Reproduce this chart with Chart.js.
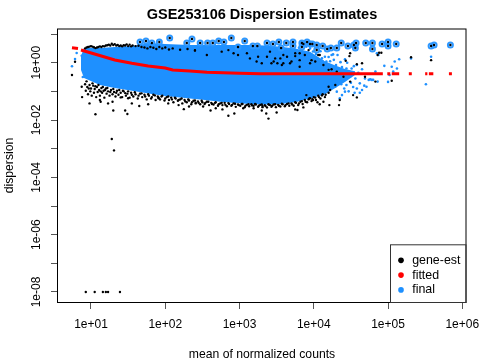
<!DOCTYPE html>
<html><head><meta charset="utf-8">
<style>html,body{margin:0;padding:0;background:#fff}canvas{display:block}</style>
<script src="https://cdn.jsdelivr.net/npm/chart.js@4"></script>
</head><body><canvas id="c" width="480" height="360"></canvas>
<script>
// All readings are [log10(mean of normalized counts), log10(dispersion)]
const title = "GSE253106 Dispersion Estimates";
const xLabel = "mean of normalized counts";
const yLabel = "dispersion";
const xTicks = [1e1,1e2,1e3,1e4,1e5,1e6];
const yTicks = [1e1,1,1e-1,1e-2,1e-3,1e-4,1e-5,1e-6,1e-7,1e-8];
// outer edges of the solid "final" cloud
const cloudMean  = [.865,.906,1.12,1.32,1.55,1.795,2.0,2.33,2.535,2.74,2.94,3.14,3.34,3.55,3.75,3.95,4.15,4.29,4.42,4.555];
const cloudUpper = [.234,.513,.513,.548,.583,.687,.652,.618,.618,.618,.618,.618,.60,.56,.5,.38,.05,-.1,-.22,-.3];
const cloudLower = [-.255,-.534,-.78,-.88,-.98,-1.08,-1.16,-1.25,-1.3,-1.36,-1.41,-1.44,-1.46,-1.44,-1.38,-1.25,-1.1,-.883,-.673,-.43];
// fitted trend, null = gap in the trend
const fittedLog = [[.744,.523],[.825,.495],null,[.865,.443],[1.094,.269],[1.32,.094],[1.55,-.02],[1.77,-.115],[2.0,-.185],[2.1,-.255],[2.33,-.29],[2.56,-.335],[3.0,-.37],[3.28,-.384],[4.93,-.384],null,[4.99,-.384],[5.03,-.384],null,[5.05,-.384],[5.15,-.384],null,[5.28,-.384],[5.32,-.384],null,[5.5,-.384],[5.53,-.384],null,[5.55,-.384],[5.61,-.384],null,[5.82,-.384],[5.86,-.384]];
// outliers: ringed points
const outlierLog = [[1.66,.72],[1.74,.757],[1.82,.687],[1.92,.72],[2.06,.86],[2.29,.687],[2.36,.83],[2.47,.687],[2.57,.687],[2.64,.687],[2.72,.757],[2.79,.72],[2.89,.86],[2.98,.548],[3.07,.757],[3.18,.583],[3.24,.583],[3.37,.687],[3.45,.652],[3.53,.72],[3.63,.687],[3.56,.513],[3.72,.583],[3.72,.72],[3.84,.687],[3.84,.548],[3.86,.652],[3.91,.72],[3.95,.652],[3.98,.652],[4.04,.443],[4.04,.618],[4.12,.583],[4.18,.478],[4.23,.513],[4.31,.513],[4.37,.687],[4.46,.583],[4.54,.618],[4.57,.687],[4.56,.513],[4.7,.687],[4.79,.687],[4.79,.478],[4.92,.652],[5.0,.722],[5.0,.583],[5.11,.652],[5.58,.583],[5.62,.618],[5.84,.618]];
// gene-wise estimates
const geneTopBand = [[.92,.5],[.96,.55],[1.0,.58],[1.04,.54],[1.08,.53],[1.12,.57],[1.16,.58],[1.2,.6],[1.24,.63],[1.28,.66],[1.32,.65],[1.36,.62],[1.4,.6],[1.44,.61],[1.48,.64],[1.52,.63],[1.56,.6],[1.6,.58],[1.64,.59],[1.68,.55],[1.72,.53],[1.76,.5],[1.8,.55],[1.84,.52],[1.88,.48],[1.92,.55],[1.96,.5],[2.0,.53],[2.05,.46],[2.1,.5],[2.2,.45],[2.3,.48],[2.4,.42],[.94,.53],[.98,.56],[1.02,.56],[1.06,.51],[1.1,.55],[1.14,.55],[1.18,.57],[1.22,.61],[1.26,.6],[1.3,.62],[1.34,.6],[1.38,.58],[1.42,.57],[1.46,.6],[1.5,.58],[1.54,.57]];
const geneInner = [[2.4,.44],[2.56,.27],[2.76,.385],[2.85,.44],[2.92,.33],[2.98,.27],[3.1,.33],[3.14,.15],[3.23,.04],[3.25,.21],[3.3,-.02],[3.41,.385],[3.43,-.02],[3.48,.15],[3.51,-.02],[3.57,-.08],[3.59,.27],[3.68,-.02],[3.75,.33],[3.81,-.14],[3.93,.44],[3.97,.09],[4.06,.27],[3.81,.33],[3.75,.23],[3.88,.27],[3.95,-.02],[4.02,.04],[4.08,.27],[4.13,-.08],[4.2,-.25],[3.81,.09],[3.64,.21],[3.55,.15],[3.46,.04],[3.37,.21],[3.59,-.02],[3.7,.04],[4.24,-.23],[4.31,-.31],[4.4,-.49],[4.49,-.66],[4.69,-.49],[4.83,-.66]];
const geneLowBand = [[.92,-.75],[.93,-.98],[.95,-.85],[.96,-1.1],[.98,-.78],[.99,-1.0],[1.0,-.9],[1.01,-1.15],[1.03,-.8],[1.04,-1.05],[1.05,-.92],[1.07,-1.2],[1.08,-.85],[1.09,-1.02],[1.11,-.95],[1.12,-1.15],[1.14,-.88],[1.15,-1.05],[1.17,-.98],[1.18,-1.22],[1.2,-.9],[1.21,-1.08],[1.23,-1.0],[1.25,-1.15],[1.27,-.95],[1.29,-1.1],[1.31,-1.02],[1.33,-1.18],[1.35,-.98],[1.37,-1.12],[1.4,-1.05],[1.42,-1.2],[1.44,-1.0],[1.47,-1.15],[1.49,-1.08],[1.52,-1.22],[1.54,-1.05],[1.57,-1.18],[1.6,-1.1],[1.63,-1.25],[1.66,-1.08],[1.69,-1.2],[1.72,-1.12],[1.75,-1.28],[1.78,-1.15],[1.81,-1.25],[1.84,-1.12],[1.87,-1.3],[1.9,-1.18],[1.93,-1.28],[1.96,-1.15],[1.99,-1.32],[2.02,-1.2],[2.05,-1.3],[2.08,-1.22],[2.11,-1.38],[2.14,-1.25],[2.17,-1.33],[2.2,-1.28],[2.23,-1.42],[2.26,-1.3],[2.29,-1.38],[2.32,-1.32],[2.35,-1.45],[2.38,-1.33],[2.41,-1.4],[2.44,-1.35],[2.47,-1.45],[2.5,-1.38],[2.53,-1.44],[2.56,-1.36],[2.59,-1.48],[2.62,-1.4],[2.65,-1.46],[2.68,-1.38],[2.71,-1.5],[2.74,-1.42],[2.77,-1.48],[2.8,-1.4],[2.83,-1.52],[2.86,-1.44],[2.89,-1.5],[2.92,-1.42],[2.95,-1.54],[2.98,-1.46],[3.01,-1.5],[3.04,-1.44],[3.07,-1.55],[3.1,-1.47],[3.13,-1.52],[3.16,-1.45],[3.19,-1.5],[3.22,-1.46],[3.25,-1.54],[3.28,-1.47],[3.31,-1.55],[3.34,-1.48],[3.37,-1.56],[3.4,-1.47],[3.43,-1.54],[3.46,-1.46],[3.49,-1.55],[3.52,-1.47],[3.55,-1.53],[3.58,-1.45],[3.61,-1.52],[3.64,-1.44],[3.67,-1.5],[3.7,-1.42],[3.73,-1.5],[3.76,-1.4],[3.79,-1.48],[3.82,-1.36],[3.85,-1.44],[3.88,-1.3],[3.91,-1.38],[3.94,-1.25],[3.97,-1.34],[4.0,-1.2],[4.03,-1.3],[4.06,-1.15],[4.09,-1.25],[4.12,-1.1],[4.15,-1.2]];
const geneLowBandInner = [[.94,-.65],[.97,-.9],[1.02,-.72],[1.06,-.82],[1.1,-.78],[1.13,-1.0],[1.16,-.85],[1.19,-.95],[1.22,-.88],[1.26,-1.02],[1.3,-.92],[1.34,-1.05],[1.38,-.95],[1.43,-.98],[1.46,-1.06],[1.5,-1.0],[1.55,-1.12],[1.59,-1.03],[1.64,-1.15],[1.68,-1.07],[1.73,-1.18],[1.77,-1.1],[1.82,-1.2],[1.86,-1.14],[1.91,-1.22],[1.95,-1.18],[2.0,-1.25],[2.04,-1.18],[2.09,-1.28],[2.13,-1.22],[2.18,-1.3],[2.22,-1.25],[2.27,-1.35],[2.31,-1.28],[2.36,-1.38],[2.4,-1.32],[2.45,-1.4],[2.49,-1.33],[2.54,-1.4],[2.58,-1.36],[2.63,-1.44],[2.67,-1.4],[2.72,-1.45],[2.76,-1.4],[2.81,-1.47],[2.85,-1.41],[2.9,-1.47],[2.94,-1.43],[2.99,-1.48],[3.03,-1.44],[3.08,-1.5],[3.12,-1.45],[3.17,-1.49],[3.21,-1.44],[3.26,-1.5],[3.3,-1.46],[3.35,-1.51],[3.39,-1.45],[3.44,-1.5],[3.48,-1.45],[3.53,-1.5],[3.57,-1.43],[3.62,-1.48],[3.66,-1.42],[3.71,-1.46],[3.75,-1.38],[3.8,-1.42],[3.84,-1.34],[3.89,-1.36],[3.93,-1.28],[3.98,-1.27],[4.02,-1.22],[4.07,-1.2],[4.11,-1.14],[4.16,-1.12],[4.2,-1.05]];
const geneLowScatter = [[1.06,-1.8],[1.28,-2.66],[1.31,-3.06],[1.3,-1.67],[1.46,-1.67],[1.49,-1.79],[.98,-1.42],[1.12,-1.3],[1.13,-1.36],[1.23,-1.42],[1.29,-1.36],[1.4,-1.21],[1.5,-1.24],[1.55,-1.42],[1.65,-1.51],[1.77,-1.45],[1.91,-1.24],[2.04,-1.42],[2.18,-1.48],[2.25,-1.62],[2.32,-1.53],[2.41,-1.42],[2.51,-1.53],[2.61,-1.67],[2.68,-1.59],[2.77,-1.63],[2.85,-1.85],[2.93,-1.77],[3.05,-1.59],[3.19,-1.59],[3.3,-1.67],[3.31,-1.51],[3.36,-1.77],[3.39,-1.95],[3.41,-1.48],[3.5,-1.74],[3.75,-1.63],[3.78,-1.65],[3.86,-1.56]];
const geneRight = [[4.49,.33],[4.48,.23],[4.86,.27],[4.88,.35],[4.91,.35],[5.31,.19],[5.58,.09],[5.05,-.63],[4.65,-.02],[4.58,-.05],[4.43,.07],[4.34,-1.48],[4.35,-1.3],[4.53,-1.13],[4.58,-1.21],[4.21,-1.48],[4.2,-.84],[4.22,-.95],[4.29,-.78],[4.13,-1.36],[4.08,-1.45],[4.05,-1.38],[3.99,-1.3],[3.95,-1.24],[3.9,-1.13]];
const geneLeft = [[.744,-.43],[.785,.035],[.875,-.84],[.88,-1.2]];
const geneFloor = [[.93,-8],[1.05,-8],[1.16,-8],[1.2,-8],[1.23,-8],[1.39,-8]];
// final estimates outside the solid cloud
const finalScatter = [[.744,-.125],[.785,.13],[.807,.337],[.875,.244],[.906,-.255],[.89,-.5],[5.31,.15],[5.58,.21],[5.51,-.75],[5.0,-.67],[5.05,-.14],[4.95,-.11],[5.15,.12],[5.09,.04],[5.12,-.2],[5.07,-.31],[5.02,-.43],[4.85,.33],[4.87,.27],[4.71,-.84],[4.65,-.95],[4.62,-1.05],[4.55,-1.05],[4.35,-1.24],[4.42,-1.01],[4.31,-1.01],[4.29,-.84],[4.24,.27],[4.26,.29],[4.32,.27],[4.42,.12],[4.45,0],[4.51,-.2],[4.58,-.08],[4.65,-.23],[4.69,-.55],[4.74,-.6],[4.76,-.58],[4.78,-.6],[4.8,-.6],[4.83,-.31],[4.86,-.66],[4.62,-.72],[4.49,-.49],[4.4,-.37],[4.35,-.25],[4.56,-.55],[4.44,-.78],[4.38,-1.13],[4.24,-.6],[4.31,-.66],[4.17,-.49],[4.17,.04],[4.11,.15],[3.99,.39],[3.9,.56],[3.84,.44],[3.95,.5],[3.73,.42],[3.64,.39],[4.06,.56],[4.15,.21],[3.5,.33],[3.41,.39],[3.7,.5],[3.8,.52],[3.86,.3],[3.92,.35],[3.98,.22],[4.03,.3],[4.09,.4],[4.12,.05],[4.2,.2],[4.22,.05],[4.27,.1],[4.3,-.08],[4.36,.02],[4.38,-.15],[4.44,-.2],[4.47,-.35],[4.5,-.7],[4.53,-.85],[4.47,-1.0],[4.41,-.9],[4.37,-.75],[4.6,-.35],[4.54,-.12],[4.68,-.8],[4.58,-.9]];

const BLUE = "#1E90FF";
const FONT = "'Liberation Sans', Arial, sans-serif";
const toXY = p => p ? {x: Math.pow(10,p[0]), y: Math.pow(10,p[1])} : {x: NaN, y: null};
const geneAll = [...outlierLog, ...geneTopBand, ...geneInner, ...geneLowBand, ...geneLowBandInner, ...geneLowScatter, ...geneRight, ...geneLeft, ...geneFloor];
const cloudPts = arr => arr.map((v,i) => toXY([cloudMean[i], v]));

const frame = {
  id: "frame",
  afterLayout(chart){
    const l = chart.legend;
    l.left = 393.6; l.top = 251.7; l.right = 466; l.bottom = 302;
  },
  afterDraw(chart){
    const a = chart.chartArea, c = chart.ctx;
    c.save();
    c.strokeStyle = "#000"; c.lineWidth = 1;
    c.strokeRect(a.left-0.5, a.top, a.right-a.left+0.5, a.bottom-a.top+0.5);
    c.strokeStyle = "#333";
    c.strokeRect(390.5, 244.8, a.right-390.5, a.bottom-244.3);
    c.restore();
  }
};
const noPad = a => { a.paddingLeft = 0; a.paddingRight = 0; a.paddingTop = 0; a.paddingBottom = 0; };

new Chart(document.getElementById("c"), {
  type: "scatter",
  data: { datasets: [
    {label:"gene-est", data: geneAll.map(toXY), order:1, backgroundColor:"#000", borderColor:"#000", borderWidth:0, pointRadius:1.2, pointStyle:"circle"},
    {label:"fitted", data: fittedLog.map(toXY), order:0, showLine:true, spanGaps:false, backgroundColor:"#FF0000", borderColor:"#FF0000", borderWidth:3, borderCapStyle:"butt", pointRadius:0, pointStyle:"circle"},
    {label:"final", data: finalScatter.map(toXY), order:3, backgroundColor:BLUE, borderColor:BLUE, borderWidth:0, pointRadius:1.3, pointStyle:"circle"},
    {label:"outlier", data: outlierLog.map(toXY), order:2, backgroundColor:"rgba(0,0,0,0)", borderColor:"#2E98FF", borderWidth:2, pointRadius:2.5, pointStyle:"circle"},
    {label:"cloud upper", data: cloudPts(cloudUpper), order:4, showLine:true, borderWidth:0, borderColor:BLUE, backgroundColor:BLUE, pointRadius:0, fill:"+1"},
    {label:"cloud lower", data: cloudPts(cloudLower), order:5, showLine:true, borderWidth:0, borderColor:BLUE, backgroundColor:BLUE, pointRadius:0}
  ]},
  options: {
    responsive:false, animation:false, devicePixelRatio:1,
    layout:{padding:{left:0,right:14,top:0,bottom:0}},
    font:{family:FONT},
    plugins:{
      tooltip:{enabled:false},
      title:{display:true, text:title, fullSize:false, color:"#000", font:{family:FONT,size:14.5,weight:"bold"}, padding:{top:6.4,bottom:5.2}},
      legend:{display:true, position:"chartArea", align:"start",
        labels:{usePointStyle:true, boxWidth:10, boxHeight:4, padding:2.4, color:"#000", font:{family:FONT,size:12.4},
          sort:(a,b)=>a.datasetIndex-b.datasetIndex,
          generateLabels:chart=>Chart.defaults.plugins.legend.labels.generateLabels(chart)
            .filter(i=>["gene-est","fitted","final"].includes(i.text))
            .map(i=>Object.assign(i,{lineWidth:0}))}}
    },
    scales:{
      x:{type:"logarithmic", min:3.595, max:1122000,
        border:{display:false},
        grid:{drawOnChartArea:false, drawTicks:true, tickLength:7, tickColor:"#555"},
        afterBuildTicks:a=>{a.ticks = xTicks.map(v=>({value:v}));},
        afterFit:a=>{a.height = 58; noPad(a);},
        ticks:{autoSkip:false, maxRotation:0, minRotation:0, padding:8, color:"#000", font:{family:FONT,size:12},
          callback:v=>"1e+0"+Math.round(Math.log10(v))},
        title:{display:true, text:xLabel, color:"#000", font:{family:FONT,size:12.2}, padding:{top:0,bottom:-1.5}}
      },
      y:{type:"logarithmic", min:4.47e-9, max:15,
        border:{display:false},
        grid:{drawOnChartArea:false, drawTicks:true, tickLength:7, tickColor:"#555"},
        afterBuildTicks:a=>{a.ticks = yTicks.map(v=>({value:v}));},
        afterFit:a=>{a.width = 58; noPad(a);},
        ticks:{autoSkip:false, minRotation:90, maxRotation:90, crossAlign:"center", padding:-3, color:"#000", font:{family:FONT,size:12},
          callback:v=>{const e=Math.round(Math.log10(v)); return (e%2===0&&e<=0)?(e===0?"1e+00":"1e-0"+(-e)):"";}},
        title:{display:true, text:yLabel, color:"#000", font:{family:FONT,size:12.2}, padding:{top:2,bottom:0}}
      }
    }
  },
  plugins:[frame]
});
</script></body></html>
